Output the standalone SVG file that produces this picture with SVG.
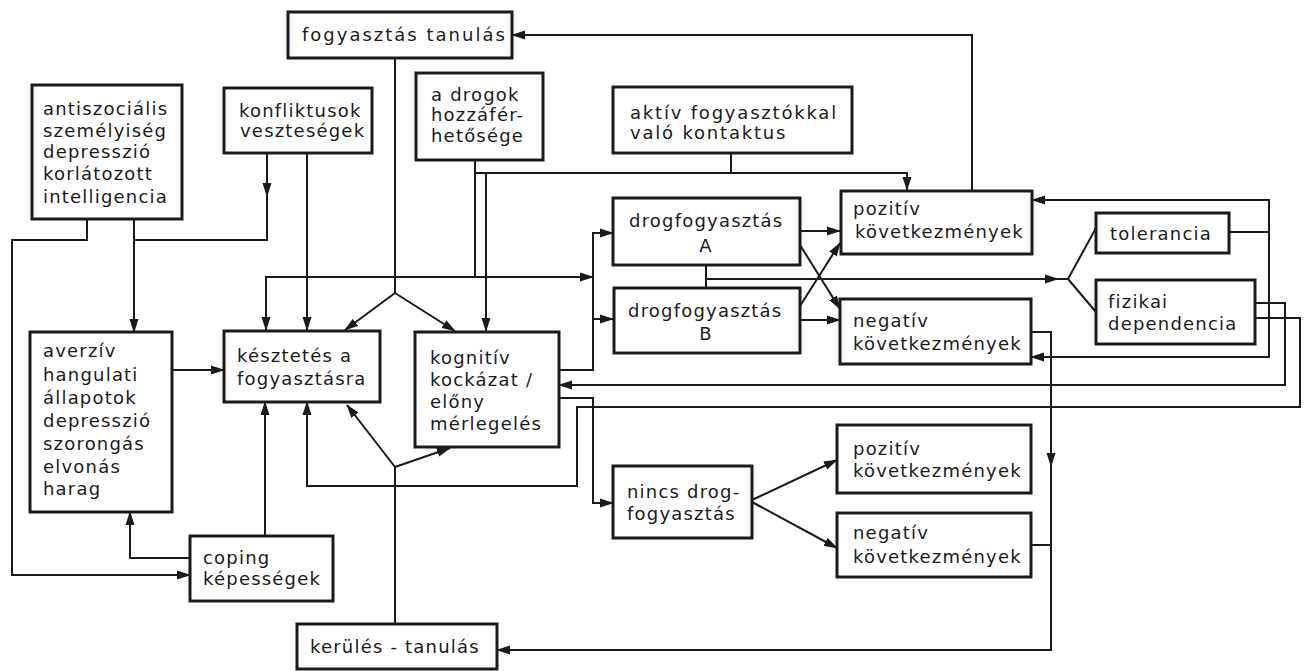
<svg xmlns="http://www.w3.org/2000/svg" width="1309" height="671" viewBox="0 0 1309 671">
<defs>
<marker id="ah" markerUnits="userSpaceOnUse" markerWidth="14" markerHeight="10" refX="13" refY="5" orient="auto-start-reverse">
<path d="M0,0.5 L14,5 L0,9.5 z" fill="#1a1a1a"/>
</marker>
</defs>
<style>
rect.b{fill:#fff;stroke:#1a1a1a;stroke-width:3}
.c path{fill:none;stroke:#1a1a1a;stroke-width:2}
text{font-family:"DejaVu Sans","Liberation Sans",sans-serif;font-size:18px;fill:#1a1a1a;letter-spacing:1.2px}
</style>
<rect width="1309" height="671" fill="#fff"/>
<g class="c" id="connectors">
<path d="M972,190 V35 H512" marker-end="url(#ah)"/>
<path d="M395,58 V293"/>
<path d="M395,293 L345,330" marker-end="url(#ah)"/>
<path d="M395,293 L455,331" marker-end="url(#ah)"/>
<path d="M87,219 V240 H12 V575 H190" marker-end="url(#ah)"/>
<path d="M134,219 V332" marker-end="url(#ah)"/>
<path d="M267,153 V196" marker-end="url(#ah)"/>
<path d="M267,190 V240 H134"/>
<path d="M307,153 V330" marker-end="url(#ah)"/>
<path d="M475,160 V277 H266 V330" marker-end="url(#ah)"/>
<path d="M475,277 H593" marker-end="url(#ah)"/>
<path d="M731,153 V173"/>
<path d="M475,173 H907 V190" marker-end="url(#ah)"/>
<path d="M486,173 V331" marker-end="url(#ah)"/>
<path d="M559,370 H593 V233 H613" marker-end="url(#ah)"/>
<path d="M593,319 H613" marker-end="url(#ah)"/>
<path d="M800,231 H840" marker-end="url(#ah)"/>
<path d="M800,245 L840,309" marker-end="url(#ah)"/>
<path d="M800,306 L840,243" marker-end="url(#ah)"/>
<path d="M800,320 H840" marker-end="url(#ah)"/>
<path d="M706,265 V288"/>
<path d="M706,279 H1058" marker-end="url(#ah)"/>
<path d="M1054,279 H1068 L1096,228"/>
<path d="M1068,279 L1096,312"/>
<path d="M1229,232 H1269"/>
<path d="M1032,200 H1269 V357 H1031" marker-start="url(#ah)" marker-end="url(#ah)"/>
<path d="M1255,303 H1285 V385 H559" marker-end="url(#ah)"/>
<path d="M1255,318 H1300 V407 H577 V486 H307 V402" marker-end="url(#ah)"/>
<path d="M559,398 H593 V503 H613" marker-end="url(#ah)"/>
<path d="M752,500 L837,460" marker-end="url(#ah)"/>
<path d="M752,502 L837,548" marker-end="url(#ah)"/>
<path d="M1031,332 H1051 V650 H497" marker-end="url(#ah)"/>
<path d="M1051,440 V466" marker-end="url(#ah)"/>
<path d="M1031,545 H1051"/>
<path d="M395,623 V467"/>
<path d="M395,467 L347,405" marker-end="url(#ah)"/>
<path d="M395,467 L450,448" marker-end="url(#ah)"/>
<path d="M265,536 V402" marker-end="url(#ah)"/>
<path d="M190,558 H130 V512" marker-end="url(#ah)"/>
<path d="M172,370 H224" marker-end="url(#ah)"/>
</g>
<g id="n-fogy-tanulas"><rect class="b" x="288" y="12" width="224" height="46"/><text x="302" y="41" style="letter-spacing:2px">fogyasztás tanulás</text></g>
<g id="n-antiszocialis"><rect class="b" x="32" y="85" width="150" height="134"/>
<text x="43" y="115">antiszociális</text><text x="43" y="137">személyiség</text><text x="43" y="158">depresszió</text><text x="43" y="180">korlátozott</text><text x="43" y="203">intelligencia</text></g>
<g id="n-konfliktusok"><rect class="b" x="224" y="88" width="148" height="65"/>
<text x="239" y="117">konfliktusok</text><text x="240" y="137">veszteségek</text></g>
<g id="n-drogok"><rect class="b" x="416" y="73" width="127" height="87"/>
<text x="431" y="101">a drogok</text><text x="431" y="121">hozzáfér-</text><text x="431" y="142">hetősége</text></g>
<g id="n-aktiv"><rect class="b" x="613" y="87" width="239" height="66"/>
<text x="630" y="119" style="letter-spacing:1.8px">aktív fogyasztókkal</text><text x="630" y="139" style="letter-spacing:1.8px">való kontaktus</text></g>
<g id="n-poz1"><rect class="b" x="841" y="191" width="191" height="63"/>
<text x="853" y="215">pozitív</text><text x="855" y="238">következmények</text></g>
<g id="n-drogA"><rect class="b" x="613" y="198" width="187" height="67"/>
<text x="629" y="227">drogfogyasztás</text><text x="706" y="252" text-anchor="middle">A</text></g>
<g id="n-drogB"><rect class="b" x="614" y="288" width="186" height="65"/>
<text x="628" y="317">drogfogyasztás</text><text x="706" y="340" text-anchor="middle">B</text></g>
<g id="n-neg1"><rect class="b" x="840" y="299" width="191" height="65"/>
<text x="853" y="327">negatív</text><text x="853" y="350">következmények</text></g>
<g id="n-tolerancia"><rect class="b" x="1096" y="213" width="133" height="40"/>
<text x="1110" y="240">tolerancia</text></g>
<g id="n-fizikai"><rect class="b" x="1096" y="280" width="159" height="64"/>
<text x="1108" y="308">fizikai</text><text x="1108" y="330">dependencia</text></g>
<g id="n-averziv"><rect class="b" x="30" y="332" width="142" height="180"/>
<text x="43" y="357">averzív</text><text x="43" y="381">hangulati</text><text x="43" y="404">állapotok</text><text x="43" y="427">depresszió</text><text x="43" y="450">szorongás</text><text x="43" y="473">elvonás</text><text x="43" y="495">harag</text></g>
<g id="n-keszetes"><rect class="b" x="224" y="331" width="156" height="71"/>
<text x="237" y="362">késztetés a</text><text x="237" y="385">fogyasztásra</text></g>
<g id="n-kognitiv"><rect class="b" x="415" y="332" width="144" height="115"/>
<text x="430" y="364">kognitív</text><text x="430" y="386">kockázat /</text><text x="430" y="408">előny</text><text x="430" y="430">mérlegelés</text></g>
<g id="n-coping"><rect class="b" x="190" y="536" width="143" height="65"/>
<text x="203" y="564">coping</text><text x="203" y="585">képességek</text></g>
<g id="n-kerules"><rect class="b" x="297" y="624" width="200" height="45"/>
<text x="310" y="653">kerülés - tanulás</text></g>
<g id="n-nincs"><rect class="b" x="613" y="466" width="139" height="72"/>
<text x="627" y="498">nincs drog-</text><text x="627" y="520">fogyasztás</text></g>
<g id="n-poz2"><rect class="b" x="837" y="425" width="194" height="68"/>
<text x="853" y="455">pozitív</text><text x="853" y="477">következmények</text></g>
<g id="n-neg2"><rect class="b" x="837" y="513" width="194" height="64"/>
<text x="853" y="539">negatív</text><text x="853" y="563">következmények</text></g>
</svg>
